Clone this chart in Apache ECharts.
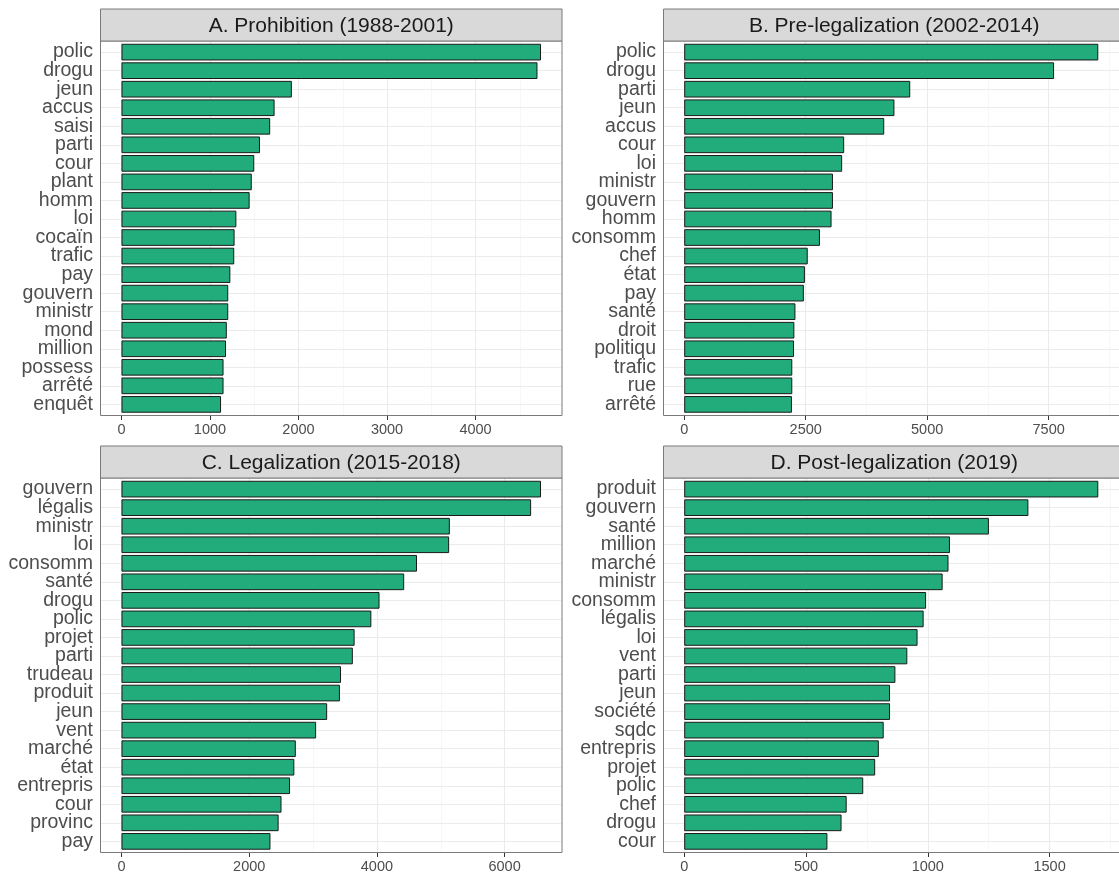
<!DOCTYPE html>
<html>
<head>
<meta charset="utf-8">
<script src="https://cdn.jsdelivr.net/npm/echarts@6/dist/echarts.min.js"></script>
<style>
html,body{margin:0;padding:0;background:#fff;}
#chart{width:1119px;height:876px;}
</style>
</head>
<body>
<div id="chart"></div>
<script>
// ---------- data ----------
const titleA = 'A. Prohibition (1988-2001)';
const catsA = ['polic','drogu','jeun','accus','saisi','parti','cour','plant','homm','loi','cocaïn','trafic','pay','gouvern','ministr','mond','million','possess','arrêté','enquêt'];
const valsA = [4740,4700,1925,1730,1680,1565,1500,1472,1448,1298,1278,1274,1230,1206,1206,1190,1181,1153,1153,1125];
const ticksA = [0,1000,2000,3000,4000];
const minorA = [500,1500,2500,3500,4500];

const titleB = 'B. Pre-legalization (2002-2014)';
const catsB = ['polic','drogu','parti','jeun','accus','cour','loi','ministr','gouvern','homm','consomm','chef','état','pay','santé','droit','politiqu','trafic','rue','arrêté'];
const valsB = [8521,7611,4651,4326,4116,3292,3250,3061,3061,3032,2794,2542,2484,2462,2289,2267,2260,2224,2224,2217];
const ticksB = [0,2500,5000,7500];
const minorB = [1250,3750,6250,8750];

const titleC = 'C. Legalization (2015-2018)';
const catsC = ['gouvern','légalis','ministr','loi','consomm','santé','drogu','polic','projet','parti','trudeau','produit','jeun','vent','marché','état','entrepris','cour','provinc','pay'];
const valsC = [6570,6415,5142,5131,4628,4427,4041,3913,3651,3623,3438,3421,3221,3048,2730,2707,2640,2506,2461,2333];
const ticksC = [0,2000,4000,6000];
const minorC = [1000,3000,5000];

const titleD = 'D. Post-legalization (2019)';
const catsD = ['produit','gouvern','santé','million','marché','ministr','consomm','légalis','loi','vent','parti','jeun','société','sqdc','entrepris','projet','polic','chef','drogu','cour'];
const valsD = [1700,1413,1251,1091,1085,1061,993,983,958,916,867,845,845,819,799,784,735,667,646,588];
const ticksD = [0,500,1000,1500];
const minorD = [250,750,1250,1750];

// ---------- layout / style ----------
const FONT = 'Liberation Sans, Arial, Helvetica, sans-serif';
const colLeft = [100.5, 663.5];
const panelW = 461.5;
const stripTop = [9, 446];
const stripH = 32;
const plotH = 374.5;
const BAR = '#22AC7B';
const GRID_MAJOR = {color:'#EBEBEB', width:1.1, type:'solid'};
const GRID_MINOR = {color:'#F3F3F3', width:0.7, type:'solid'};

const panels = [
  {title:titleA, cats:catsA, vals:valsA, ticks:ticksA, minor:minorA, col:0, row:0},
  {title:titleB, cats:catsB, vals:valsB, ticks:ticksB, minor:minorB, col:1, row:0},
  {title:titleC, cats:catsC, vals:valsC, ticks:ticksC, minor:minorC, col:0, row:1},
  {title:titleD, cats:catsD, vals:valsD, ticks:ticksD, minor:minorD, col:1, row:1}
];

const grid = [], xAxis = [], yAxis = [], series = [], graphic = [];

panels.forEach((p, i) => {
  const left = colLeft[p.col];
  const sTop = stripTop[p.row];
  const pTop = sTop + stripH;
  const n = p.cats.length;
  const band = plotH / (n + 0.2);
  const M = Math.max(...p.vals);
  const xmin = -0.05 * M, xmax = 1.05 * M;
  const gf = 2 * i, gm = 2 * i + 1;

  grid.push({left: left, top: pTop, width: panelW, height: plotH, containLabel: false});
  grid.push({left: left, top: pTop + band * 0.1, width: panelW, height: plotH - band * 0.2, containLabel: false});

  xAxis.push({
    gridIndex: gf, type: 'value', min: xmin, max: xmax,
    splitLine: {show: false}, axisLine: {show: false},
    axisTick: {show: true, length: 4.5, customValues: p.ticks, lineStyle: {color: '#333333', width: 1}},
    axisLabel: {show: true, customValues: p.ticks, margin: 7, fontSize: 14.5, color: '#4D4D4D', fontFamily: FONT,
                formatter: v => String(v)}
  });
  yAxis.push({gridIndex: gf, type: 'value', min: 0, max: 1, show: false});

  xAxis.push({gridIndex: gm, type: 'value', min: xmin, max: xmax, show: false});
  yAxis.push({
    gridIndex: gm, type: 'category', data: p.cats, inverse: true,
    axisLine: {show: false},
    axisTick: {show: true, alignWithLabel: true, interval: 0, length: 4.5, lineStyle: {color: '#333333', width: 1}},
    axisLabel: {interval: 0, margin: 7.5, fontSize: 19.5, color: '#4D4D4D', fontFamily: FONT},
    splitLine: {show: false}
  });

  // vertical grid lines
  series.push({
    type: 'scatter', xAxisIndex: gf, yAxisIndex: gf, data: [], z: 1, silent: true,
    markLine: {
      z: 1, zlevel: 0,
      silent: true, symbol: ['none', 'none'], label: {show: false}, animation: false,
      emphasis: {disabled: true},
      data: p.minor.map(v => ({xAxis: v, lineStyle: GRID_MINOR}))
        .concat(p.ticks.map(v => ({xAxis: v, lineStyle: GRID_MAJOR})))
    }
  });
  // horizontal grid lines at categories
  series.push({
    type: 'scatter', xAxisIndex: gm, yAxisIndex: gm, data: [], z: 1, silent: true,
    markLine: {
      z: 1, zlevel: 0,
      silent: true, symbol: ['none', 'none'], label: {show: false}, animation: false,
      emphasis: {disabled: true},
      data: p.cats.map((c, j) => ({yAxis: j, lineStyle: GRID_MAJOR}))
    }
  });
  // bars
  series.push({
    type: 'bar', xAxisIndex: gm, yAxisIndex: gm, data: p.vals, z: 3,
    barCategoryGap: '10%', silent: true,
    itemStyle: {color: BAR, borderColor: '#1A1A1A', borderWidth: 1}
  });

  graphic.push({
    type: 'rect', z: 100, silent: true,
    shape: {x: left, y: pTop, width: panelW, height: plotH},
    style: {fill: 'none', stroke: '#7A7A7A', lineWidth: 1}
  });
  graphic.push({
    type: 'rect', z: 100, silent: true,
    shape: {x: left, y: sTop, width: panelW, height: stripH},
    style: {fill: '#D9D9D9', stroke: '#7A7A7A', lineWidth: 1}
  });
  graphic.push({
    type: 'text', z: 101, silent: true,
    x: left + panelW / 2, y: sTop + stripH / 2 + 1,
    style: {text: p.title, fill: '#1A1A1A', font: '21px ' + FONT, align: 'center', verticalAlign: 'middle'}
  });
});

const chart = echarts.init(document.getElementById('chart'), null, {renderer: 'canvas'});
chart.setOption({
  animation: false,
  backgroundColor: '#FFFFFF',
  grid: grid, xAxis: xAxis, yAxis: yAxis, series: series, graphic: graphic
});
</script>
</body>
</html>
